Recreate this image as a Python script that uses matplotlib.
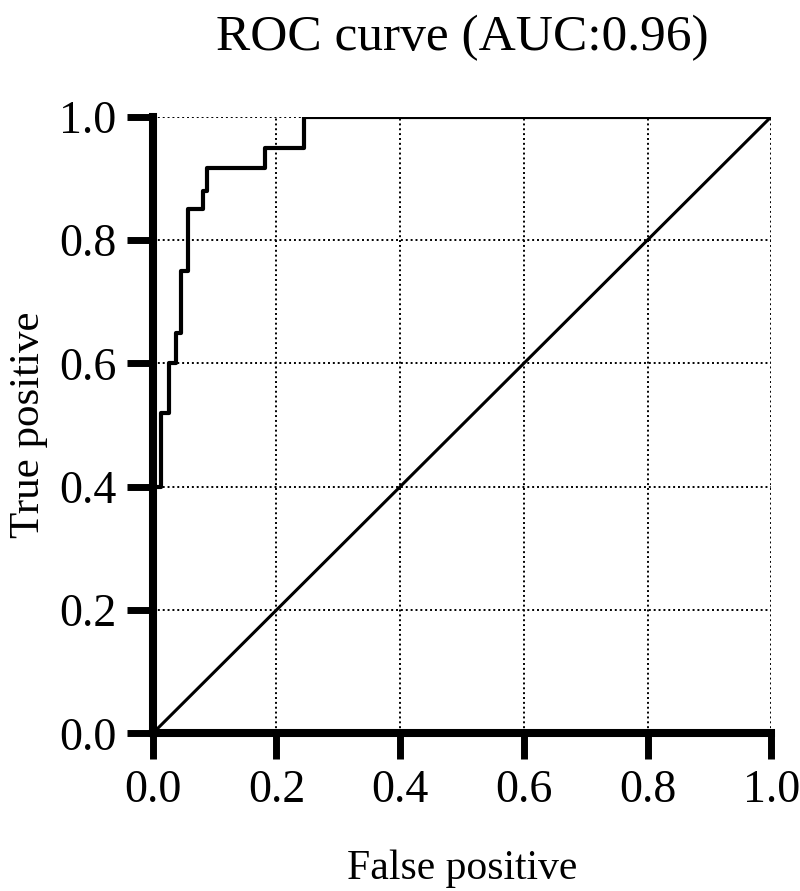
import matplotlib
matplotlib.use("Agg")
import matplotlib.pyplot as plt

plt.rcParams['font.family'] = ['Liberation Serif', 'DejaVu Serif']

# ROC points (step corners)
fpr = [0.0, 0.0, 0.014, 0.026, 0.038, 0.046, 0.057, 0.081, 0.088, 0.181, 0.245, 1.0]
tpr = [0.0, 0.40, 0.52, 0.60, 0.65, 0.75, 0.85, 0.88, 0.917, 0.95, 1.0, 1.0]
ticks = [0.0, 0.2, 0.4, 0.6, 0.8, 1.0]
tick_labels = ["0.0", "0.2", "0.4", "0.6", "0.8", "1.0"]

fig = plt.figure(figsize=(8, 8.91), dpi=100)
ax = fig.add_axes([0.191, 0.177, 0.773, 0.692])

ax.step(fpr, tpr, where='post', color='black', lw=3.0, zorder=3)
ax.plot([0, 1], [0, 1], color='black', lw=2.2, zorder=3)

ax.set_xlim(0, 1)
ax.set_ylim(0, 1)
ax.set_xticks(ticks)
ax.set_yticks(ticks)
ax.set_xticklabels(tick_labels)
ax.set_yticklabels(tick_labels)
ax.grid(True, color='black', linestyle=(0, (1, 1.5)), lw=1.4)

for s in ['top', 'right']:
    ax.spines[s].set_visible(False)
for s in ['left', 'bottom']:
    ax.spines[s].set_linewidth(5.8)
    ax.spines[s].set_zorder(4)

ax.tick_params(direction='out', length=19, width=5, labelsize=33, pad=7)

ax.set_title("ROC curve (AUC:0.96)", fontsize=37, pad=48)
ax.set_xlabel("False positive", fontsize=30, labelpad=27)
ax.set_ylabel("True positive", fontsize=31, labelpad=8)

fig.savefig("out.png", dpi=100)
